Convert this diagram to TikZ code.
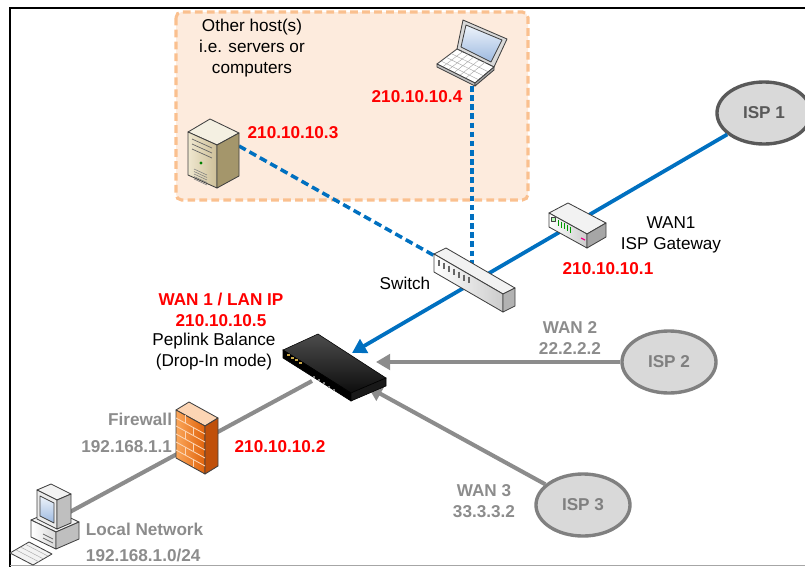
\documentclass[tikz,border=0pt]{standalone}
\usepackage{fontspec}
\setmainfont{Liberation Sans}
\usetikzlibrary{shapes.geometric,arrows.meta,positioning}

\definecolor{netblue}{HTML}{0070C0}
\definecolor{linkgray}{HTML}{8C8C8C}
\definecolor{ispfill}{HTML}{D9D9D9}
\definecolor{ispdark}{HTML}{595959}
\definecolor{ispmid}{HTML}{808080}
\definecolor{peach}{HTML}{FDEBDD}
\definecolor{peachline}{HTML}{FAC08F}
\definecolor{ipred}{HTML}{FF0000}
\definecolor{srvtop}{HTML}{F4F0E2}
\definecolor{srvlight}{HTML}{EFE7CF}
\definecolor{srvmid}{HTML}{CDBF98}
\definecolor{srvdark}{HTML}{A4966B}
\definecolor{scrtop}{HTML}{EEF4FB}
\definecolor{scrbot}{HTML}{9DB9E0}
\definecolor{fwtop}{HTML}{FCD5B4}
\definecolor{fwlight}{HTML}{FBA65A}
\definecolor{fwdeep}{HTML}{E0620A}
\definecolor{fwside}{HTML}{C0500A}
\definecolor{portgold}{HTML}{C9A646}

\newcommand{\netfont}{\fontsize{12.2}{15}\selectfont}

\tikzset{
	hostarea/.style={draw=peachline, fill=peach, line width=2.2pt, rounded corners=4pt,
		dash pattern=on 5.5pt off 3pt},
	ispnode/.style={ellipse, fill=ispfill, draw=ispmid, line width=2.4pt, minimum width=2.35cm,
		minimum height=1.55cm, text=ispmid, font=\netfont\bfseries},
	iplabel/.style={text=ipred, font=\netfont\bfseries, align=center},
	graylabel/.style={text=linkgray, font=\netfont\bfseries, align=center},
	bluelink/.style={draw=netblue, line width=2.7pt},
	bluedash/.style={draw=netblue, line width=2.5pt, dash pattern=on 5.5pt off 3pt},
	graylink/.style={draw=linkgray, line width=2.9pt},
	inlink/.style={-{Triangle[length=10pt,width=11pt]}},
	devline/.style={draw=black!75, line width=0.6pt, line join=round},
	% device icons, drawn around their centre
	pics/srvtower/.style={code={
		\path[devline, fill=srvtop] (-25,-21) -- (-3,-34) -- (26,-20) -- (4,-8) -- cycle;
		\path[devline, left color=srvlight, right color=srvmid] (-25,-21) -- (4,-8) -- (4,35) -- (-25,22) -- cycle;
		\path[devline, fill=srvdark] (4,-8) -- (26,-20) -- (26,23) -- (4,35) -- cycle;
		\foreach \d in {0,5,10}
			\draw[black!60, line width=0.5pt] (-21,{-14+\d}) -- (-1,{-5+\d});
		\fill[green!50!black] (-12,10) circle (1.2pt);
		\foreach \d in {0,2.5,...,10}
			\draw[black!50, line width=0.4pt] (-19,{16+\d}) -- (-6,{22+\d});
	}},
	pics/laptop/.style={code={
		\path[devline, fill=black!15] (-9,-32) -- (35,-13) -- (22,15) -- (-15,-3) -- cycle;
		\path[devline, top color=scrtop, bottom color=scrbot] (-6,-27) -- (30,-12) -- (19,10) -- (-11,-5) -- cycle;
		\path[devline, fill=white] (-15,-3) -- (22,15) -- (3,31) -- (-35,12) -- cycle;
		\foreach \t in {0.3,0.55,0.8}
			\draw[black!35, line width=0.3pt] ({-15-20*\t},{-3+15*\t}) -- ({22-19*\t},{15+16*\t});
		\foreach \s in {0.15,0.3,...,0.9}
			\draw[black!35, line width=0.3pt] ({-15+37*\s},{-3+18*\s}) -- ({-35+38*\s},{12+19*\s});
		\path[devline, fill=black!25] (-35,12) -- (3,31) -- (3,34) -- (-35,15) -- cycle;
		\path[devline, fill=black!35] (3,31) -- (22,15) -- (22,18) -- (3,34) -- cycle;
	}},
	pics/switchbox/.style={code={
		\path[devline, fill=black!5] (-40,-29) -- (-28,-35) -- (41,5) -- (29,11) -- cycle;
		\path[devline, left color=white, right color=black!20] (-40,-29) -- (29,11) -- (29,29) -- (-40,-11) -- cycle;
		\path[devline, fill=black!30] (29,11) -- (41,5) -- (41,23) -- (29,29) -- cycle;
		\foreach \i in {0,...,6}
			\draw[black!60, line width=0.8pt] ({-35+5*\i},{-23+2.9*\i}) -- ++(0,6);
	}},
	pics/gateway/.style={code={
		\path[devline, fill=black!5] (-28,-13) -- (-9,-23) -- (29,-3) -- (10,8) -- cycle;
		\path[devline, left color=white, right color=black!20] (-28,-13) -- (10,8) -- (10,22) -- (-28,1) -- cycle;
		\path[devline, fill=black!35] (10,8) -- (29,-3) -- (29,11) -- (10,22) -- cycle;
		\foreach \i in {0,...,4}
			\draw[green!60!black, line width=0.7pt] ({-19+3*\i},{-6+1.65*\i}) -- ++(0,6);
		\draw[devline, fill=green!30] (-26,-9) rectangle (-22,-5);
		\draw[magenta, line width=0.8pt] (4,12) -- (8,14);
	}},
	pics/peplink/.style={code={
		\path[draw=black, top color=black!70, bottom color=black!95] (-50,-12) -- (-15,-28) -- (53,16) -- (18,31) -- cycle;
		\path[draw=black, fill=black] (-50,-12) -- (18,31) -- (18,39) -- (-50,-4) -- cycle;
		\path[draw=black, fill=black!90] (18,31) -- (53,16) -- (53,24) -- (18,39) -- cycle;
		\foreach \i in {0,...,3}
			\fill[portgold] ({-46+4*\i},{-8+2.5*\i}) rectangle ++(2.5,2);
		\foreach \i in {0,...,4}
			\fill[black!50] ({-20+5*\i},{14+3.2*\i}) rectangle ++(2,2);
	}},
	pics/firewall/.style={code={
		\path[devline, fill=fwtop] (-21,-30) -- (-8,-38) -- (21,-22) -- (8,-14) -- cycle;
		\path[devline, left color=fwlight, right color=fwdeep] (-21,-30) -- (8,-14) -- (8,34) -- (-21,18) -- cycle;
		\path[devline, fill=fwside] (8,-14) -- (21,-22) -- (21,26) -- (8,34) -- cycle;
		\foreach \k in {1,...,5}
			\draw[fwtop, line width=0.6pt] (-21,{-30+8*\k}) -- (8,{-14+8*\k});
		\foreach \k/\xa in {0/-12,1/-4,2/-12,3/-4,4/-12,5/-4}
			\draw[fwtop, line width=0.6pt] (\xa,{-30+8*\k+(\xa+21)*0.55}) -- ++(0,8);
	}},
	pics/desktop/.style={code={
		\path[devline, fill=black!5] (-15,1) -- (8,-9) -- (33,3) -- (10,13) -- cycle;
		\path[devline, left color=white, right color=black!15] (-15,1) -- (10,13) -- (10,30) -- (-15,18) -- cycle;
		\path[devline, fill=black!25] (10,13) -- (33,3) -- (33,20) -- (10,30) -- cycle;
		\draw[black!60, line width=0.6pt] (-3,15) -- (7,20) (-3,19) -- (7,24);
		\path[devline, fill=black!5] (-9,-29) -- (5,-35) -- (25,-25) -- (11,-19) -- cycle;
		\path[devline, fill=black!8] (-9,-29) -- (11,-19) -- (11,10) -- (-9,0) -- cycle;
		\path[devline, fill=black!25] (11,-19) -- (25,-25) -- (25,4) -- (11,10) -- cycle;
		\path[devline, top color=scrtop, bottom color=scrbot] (-6,-23) -- (8,-16) -- (8,4) -- (-6,-3) -- cycle;
		\path[devline, fill=black!5] (-36,34) -- (-17,23) -- (6,35) -- (-13,46) -- cycle;
		\foreach \t in {0.3,0.55,0.8}
			\draw[black!35, line width=0.3pt] ({-36+19*\t},{34-11*\t}) -- ({-13+19*\t},{46-11*\t});
	}}
}

\begin{document}
\begin{tikzpicture}[x=0.025cm, y=-0.025cm, every node/.style={font=\netfont}]
	\clip (0,0) rectangle (805,567);
	% frame
	\draw[black, line width=1.6pt] (10,567) -- (10,8) -- (810,8);
	\draw[black!35, line width=0.8pt] (10,565.5) -- (805,565.5);

	% other hosts on the WAN segment
	\draw[hostarea] (176,12) rectangle (528,200);
	\node[align=center] (hosts) at (252,48) {Other host(s)\\i.e. servers or\\computers};

	\node[ispnode, draw=ispdark, text=ispdark] (isp1) at (764,113) {ISP 1};
	\node[ispnode] (isp2) at (669,362) {ISP 2};
	\node[ispnode] (isp3) at (583,505) {ISP 3};

	% ports on the devices
	\coordinate (srv) at (239,146);
	\coordinate (lap) at (472,86);
	\coordinate (swL) at (442,260);
	\coordinate (swT) at (472,272);
	\coordinate (pepN) at (352,353);
	\coordinate (pepE) at (376,362);
	\coordinate (pepS) at (368,387);
	\coordinate (pepW) at (312,381);
	\coordinate (lan) at (68,513);

	% links
	\draw[bluelink, inlink] (isp1) -- (pepN);
	\draw[bluedash] (srv) -- (swL);
	\draw[bluedash, dash pattern=on 4pt off 2.5pt] (lap) -- (swT);
	\draw[graylink, inlink] (isp2) -- (pepE);
	\draw[graylink, inlink] (isp3) -- (pepS);
	\draw[graylink] (pepW) -- (lan);

	% devices
	\pic at (213,153) {srvtower};
	\pic at (472,52) {laptop};
	\pic at (474,283) {switchbox};
	\pic at (577,226) {gateway};
	\pic at (333,362) {peplink};
	\pic at (197,440) {firewall};
	\pic at (46,519) {desktop};

	% labels
	\node[iplabel] (ip4) at (417,97) {210.10.10.4};
	\node[iplabel] (ip3) at (293,133) {210.10.10.3};
	\node (swlbl) at (405,283) {Switch};
	\node[align=center] (gwlbl) at (671,235) {WAN1\\ISP Gateway};
	\node[iplabel] (ip1) at (608,269) {210.10.10.1};
	\node[iplabel] (ip5) at (221,310) {WAN 1 / LAN IP\\210.10.10.5};
	\node[align=center] (peplbl) at (214,352) {Peplink Balance\\(Drop-In mode)};
	\node[graylabel] (wan2) at (570,338) {WAN 2\\22.2.2.2};
	\node[graylabel] (wan3) at (484,501) {WAN 3\\33.3.3.2};
	\node[graylabel, anchor=east] (fwlbl) at (177,419) {Firewall};
	\node[graylabel, anchor=east] (fwip) at (177,447) {192.168.1.1};
	\node[iplabel] (ip2) at (280,447) {210.10.10.2};
	\node[graylabel, anchor=west] (lanlbl) at (81,529) {Local Network};
	\node[graylabel, anchor=west] (lanip) at (81,555) {192.168.1.0/24};
\end{tikzpicture}
\end{document}
